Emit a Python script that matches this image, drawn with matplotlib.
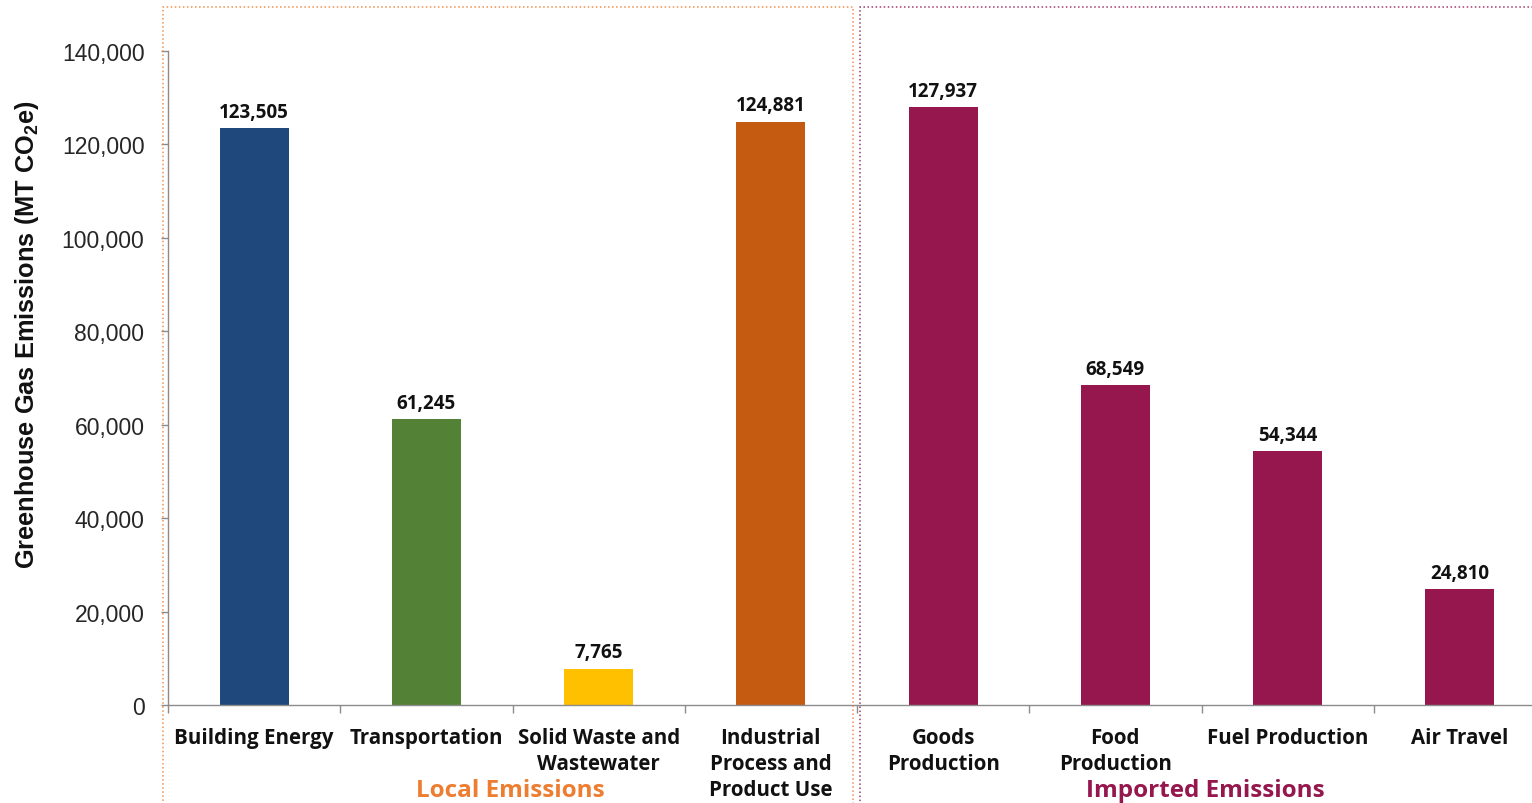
import matplotlib
matplotlib.use("Agg")
import matplotlib.pyplot as plt
from matplotlib.patches import Rectangle
from matplotlib.ticker import FuncFormatter, FixedLocator

# Emission sectors and totals (MT CO2e)
categories = ["Building Energy", "Transportation", "Solid Waste and\nWastewater",
              "Industrial\nProcess and\nProduct Use", "Goods\nProduction",
              "Food\nProduction", "Fuel Production", "Air Travel"]
emissions = [123505, 61245, 7765, 124881, 127937, 68549, 54344, 24810]
bar_colors = ["#1F497D", "#538135", "#FFC000", "#C55A11",
              "#95174E", "#95174E", "#95174E", "#95174E"]
group_names = ["Local Emissions", "Imported Emissions"]
group_colors = ["#ED7D31", "#95174E"]
y_ticks = [0, 20000, 40000, 60000, 80000, 100000, 120000, 140000]

plt.rcParams["mathtext.fontset"] = "custom"
plt.rcParams["mathtext.rm"] = "Liberation Sans"
plt.rcParams["mathtext.bf"] = "Liberation Sans:bold"

LABEL_FONT = "Open Sans"

W, H = 1532, 804
fig = plt.figure(figsize=(W / 100, H / 100), dpi=100)
ax = fig.add_axes([168 / W, (H - 706) / H, 1378 / W, 654 / H])

x = list(range(len(categories)))
ax.bar(x, emissions, width=0.4, color=bar_colors, zorder=2)

for xi, v in zip(x, emissions):
    ax.annotate(f"{v:,}", (xi, v), xytext=(0, 4.5), textcoords="offset points",
                ha="center", va="bottom", fontsize=13.5, fontweight="bold",
                family=LABEL_FONT, color="#111111")

ax.set_xlim(-0.5, len(categories) - 0.5)
ax.set_ylim(0, 140000)
ax.set_yticks(y_ticks)
ax.yaxis.set_major_formatter(FuncFormatter(lambda v, p: f"{v:,.0f}"))
ax.tick_params(axis="y", direction="out", length=5, width=1, color="#8c8c8c",
               labelsize=16.5, labelcolor="#262626", pad=12)
for lbl in ax.get_yticklabels():
    lbl.set_family("Liberation Sans")

# category boundaries get tick marks, labels sit at the bar centres
ax.xaxis.set_major_locator(FixedLocator([i - 0.5 for i in range(len(categories) + 1)]))
ax.xaxis.set_major_formatter(FuncFormatter(lambda v, p: ""))
ax.xaxis.set_minor_locator(FixedLocator(x))
ax.set_xticklabels(categories, minor=True)
ax.tick_params(axis="x", which="major", direction="out", length=6, width=1, color="#8c8c8c")
ax.tick_params(axis="x", which="minor", length=0, pad=16, labelsize=14.8)
for lbl in ax.get_xticklabels(minor=True):
    lbl.set_family(LABEL_FONT)
    lbl.set_fontweight("bold")
    lbl.set_linespacing(1.32)
    lbl.set_va("top")
    lbl.set_color("#111111")

for side in ["top", "right"]:
    ax.spines[side].set_visible(False)
for side in ["left", "bottom"]:
    ax.spines[side].set_color("#8c8c8c")
    ax.spines[side].set_linewidth(1)

fig.text(27 / W, 1 - 335 / H, r"Greenhouse Gas Emissions (MT $\mathbf{CO_2e}$)",
         rotation=90, ha="center", va="center", fontsize=18.3, fontweight="bold",
         family="Liberation Sans", color="#111111")

# dotted group frames and their captions
frames = [(163, 853), (860, 1546)]
for (x0, x1), name, col in zip(frames, group_names, group_colors):
    fig.patches.append(Rectangle((x0 / W, -0.05), (x1 - x0) / W, (H - 8) / H + 0.05,
                                 transform=fig.transFigure, fill=False,
                                 edgecolor=col, linestyle=":", linewidth=1.1, alpha=0.85))
    fig.text((x0 + x1) / 2 / W + 0.0015, 1 - 791 / H, name, ha="center", va="center",
             fontsize=17.5, fontweight="bold", family=LABEL_FONT, color=col)

fig.savefig("out.png", dpi=100)
